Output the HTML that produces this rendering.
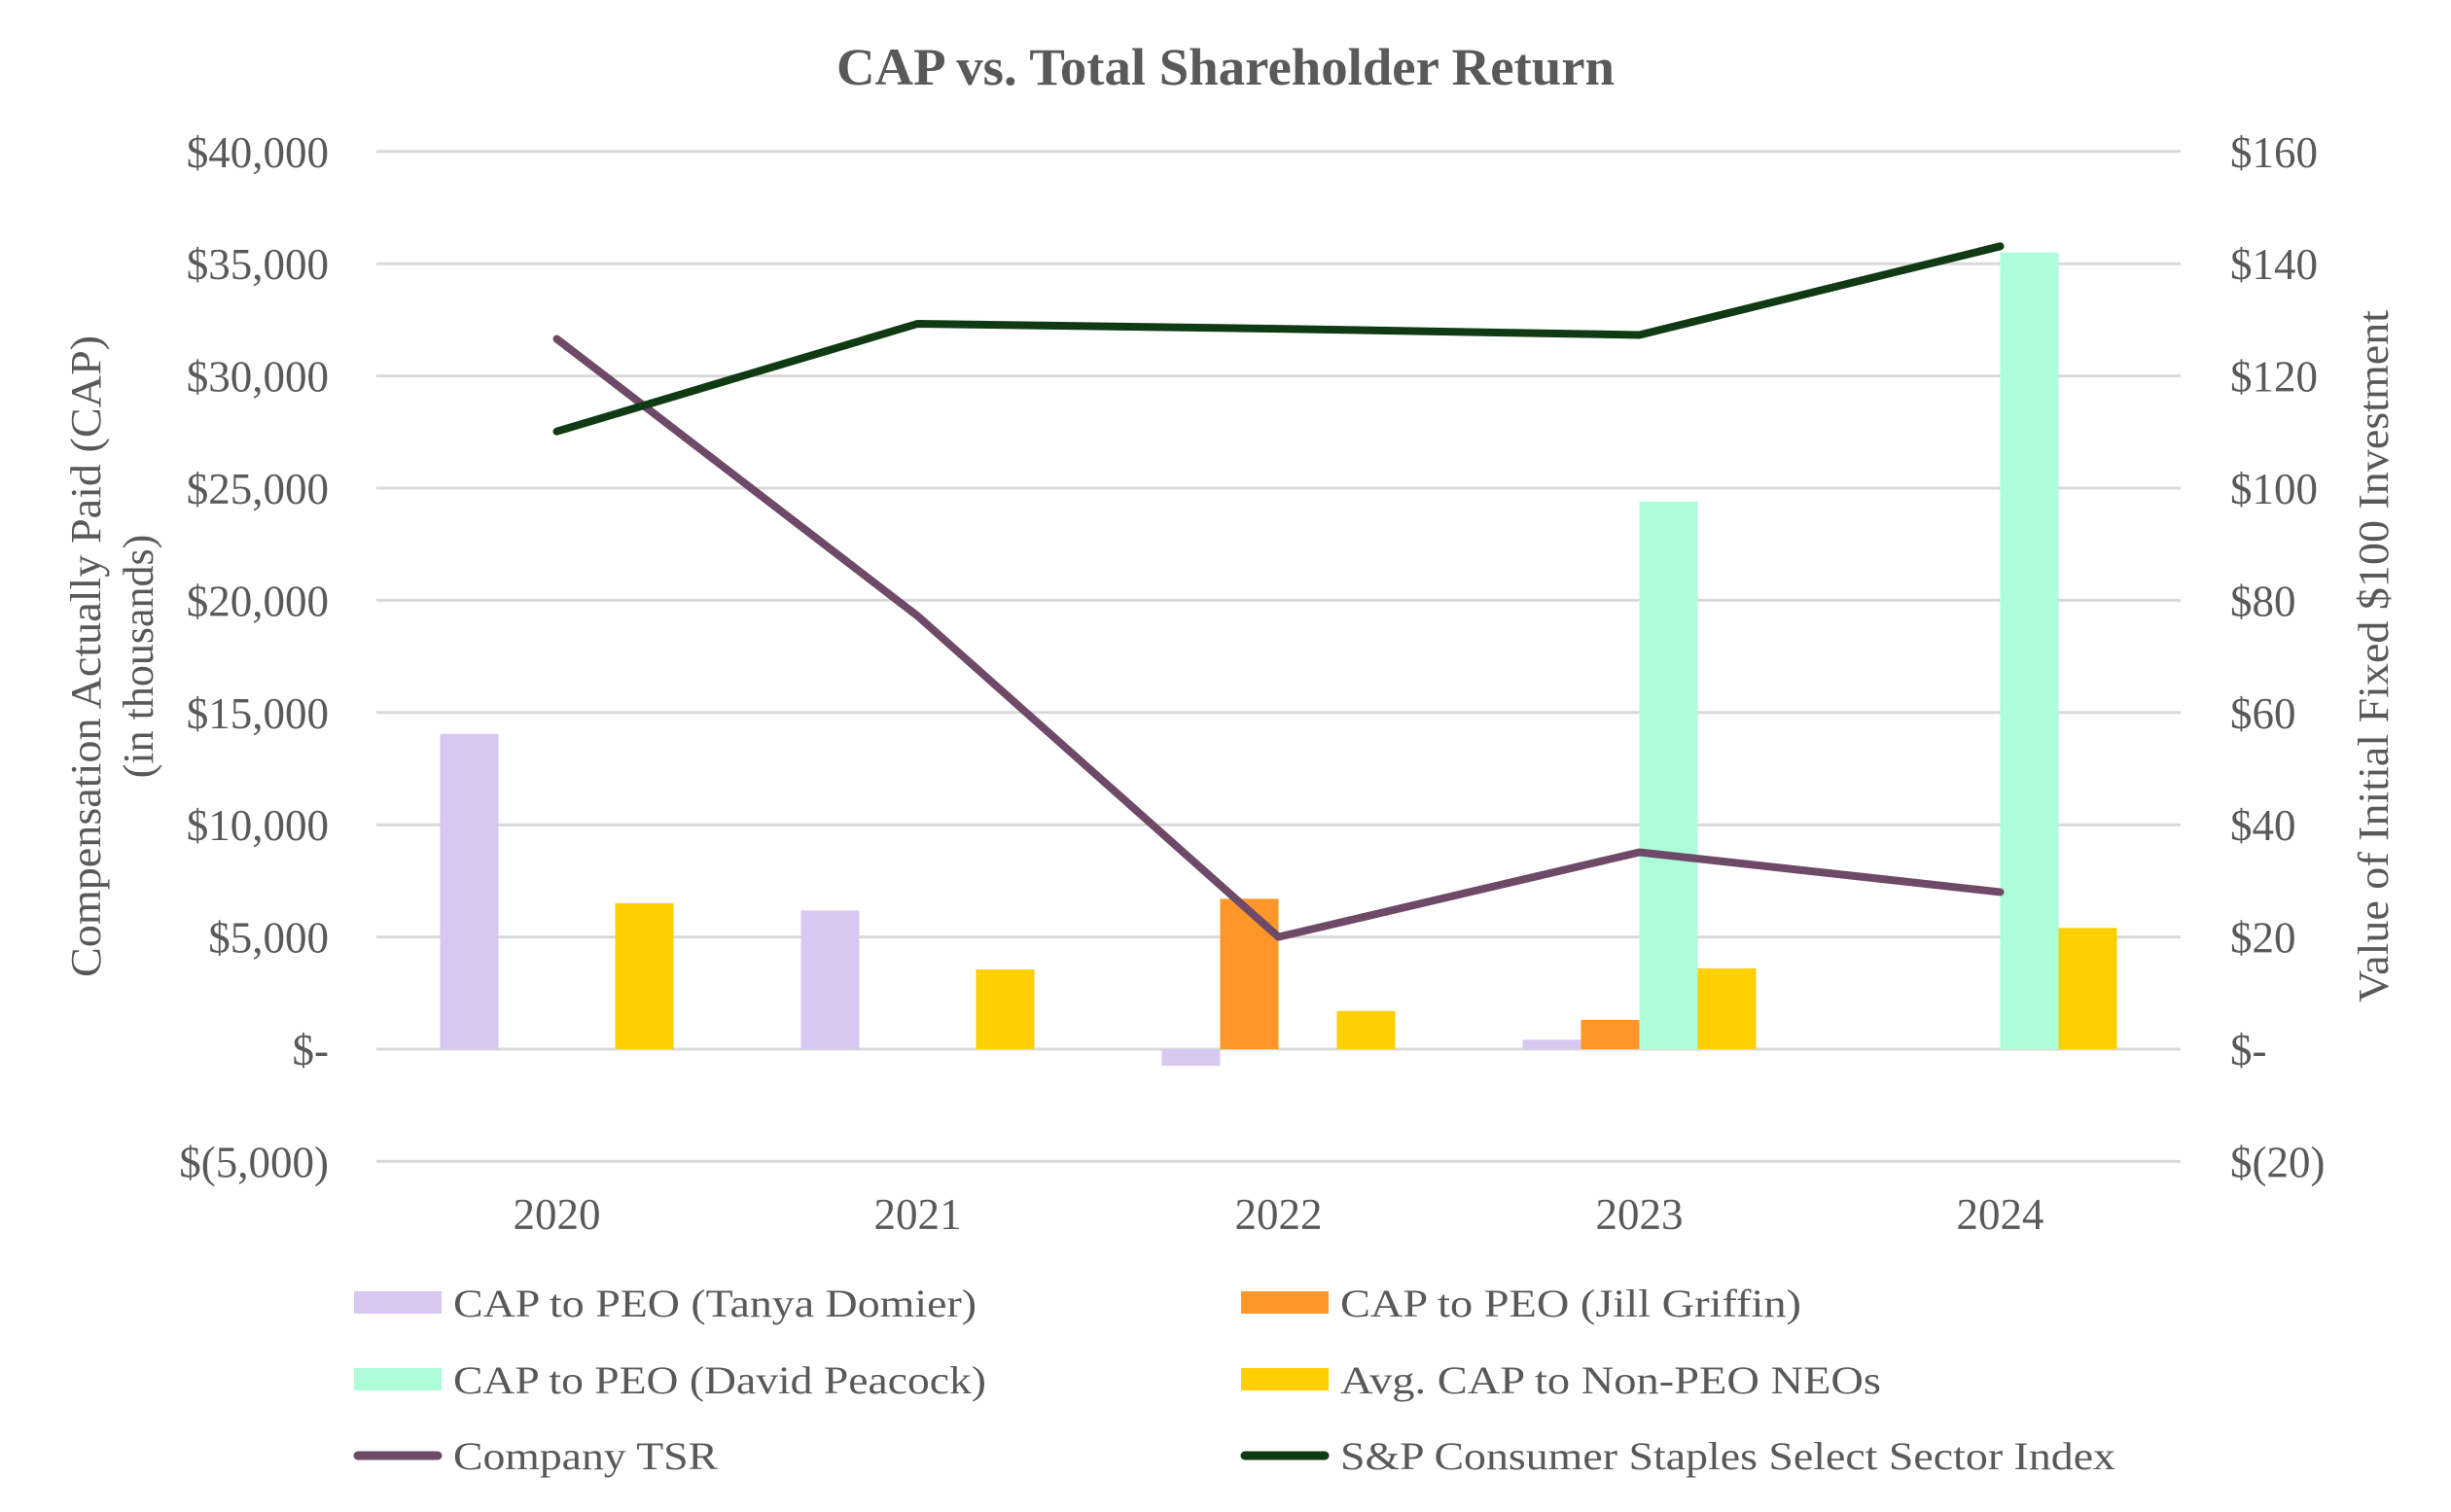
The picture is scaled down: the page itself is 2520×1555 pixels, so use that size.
<!DOCTYPE html>
<html><head><meta charset="utf-8"><style>
html,body{margin:0;padding:0;background:#fff;}
svg{display:block;font-family:"Liberation Serif",serif;}
</style></head><body>
<svg id="chart" width="2520" height="1555" viewBox="0 0 2520 1555">
<text x="1260" y="87" text-anchor="middle" font-size="54" font-weight="bold" fill="#595959" textLength="800" lengthAdjust="spacingAndGlyphs">CAP vs. Total Shareholder Return</text>
<g id="grid"></g>
<g id="bars"></g>
<g id="lines"></g>
<g id="axes"></g>
<text transform="translate(103,675) rotate(-90)" text-anchor="middle" font-size="44" fill="#595959" textLength="660" lengthAdjust="spacingAndGlyphs">Compensation Actually Paid (CAP)</text>
<text transform="translate(157,675) rotate(-90)" text-anchor="middle" font-size="44" fill="#595959">(in thousands)</text>
<text transform="translate(2455,675) rotate(-90)" text-anchor="middle" font-size="44" fill="#595959" textLength="712" lengthAdjust="spacingAndGlyphs">Value of Initial Fixed $100 Investment</text>
<g id="legend"></g>
</svg>
<script>
const years = ["2020","2021","2022","2023","2024"];
const tanya = [14050, 6180, -740, 420, 0];
const jill = [0, 0, 6700, 1300, 0];
const david = [0, 0, 0, 24400, 35500];
const nonPeo = [6500, 3550, 1700, 3600, 5400];
const companyTSR = [126.6, 77.2, 20.0, 35.1, 28.0];
const indexTSR = [110.1, 129.3, 128.4, 127.3, 143.1];
const leftTicks = [40000,35000,30000,25000,20000,15000,10000,5000,0,-5000];
const leftTickLabels = ["$40,000","$35,000","$30,000","$25,000","$20,000","$15,000","$10,000","$5,000","$-","$(5,000)"];
const rightTickLabels = ["$160","$140","$120","$100","$80","$60","$40","$20","$-","$(20)"];

const NS="http://www.w3.org/2000/svg";
const X0=387, X1=2242, Y0=1079, PX5K=115.4;
const yL=v=>Y0 - v/5000*PX5K;
const yR=v=>Y0 - v/20*PX5K;
const cw=(X1-X0)/years.length;
const xC=i=>X0+cw*(i+0.5);
function mk(tag,attrs,parent){const e=document.createElementNS(NS,tag);for(const k in attrs)e.setAttribute(k,attrs[k]);parent.appendChild(e);return e;}
const grid=document.getElementById('grid'),bars=document.getElementById('bars'),lines=document.getElementById('lines'),axes=document.getElementById('axes'),legend=document.getElementById('legend');
leftTicks.forEach((t,i)=>{
  const y=yL(t);
  const g=mk('line',{x1:X0,x2:X1,y1:y,y2:y,stroke:'#d9d9d9','stroke-width':3},grid);
  
  
  const tl=mk('text',{x:338,y:y+16,'text-anchor':'end','font-size':45,fill:'#595959'},axes);
  tl.textContent=leftTickLabels[i];
  
  
  const tr=mk('text',{x:2293,y:y+16,'font-size':45,fill:'#595959'},axes);
  tr.textContent=rightTickLabels[i];
  
  
});
years.forEach((yr,i)=>{
  const t=mk('text',{x:xC(i),y:1264,'text-anchor':'middle','font-size':45,fill:'#595959'},axes);
  t.textContent=yr;
  
  
});
const series=[[tanya,'#d7c8f2','bar-tanya-domier'],[jill,'#ff9629','bar-jill-griffin'],[david,'#adfdd8','bar-david-peacock'],[nonPeo,'#ffcf00','bar-non-peo-neos']];
const BW=60;
series.forEach((s,si)=>{
  s[0].forEach((v,i)=>{
    if(v===0)return;
    const x=xC(i)-2*BW+si*BW;
    const y1=yL(Math.max(v,0)), y2=yL(Math.min(v,0));
    const r=mk('rect',{x:x,y:y1,width:BW,height:y2-y1,fill:s[1]},bars);
    
    
  });
});
function drawLine(arr,color,name){
  const pts=arr.map((v,i)=>xC(i)+','+yR(v)).join(' ');
  const p=mk('polyline',{points:pts,fill:'none',stroke:color,'stroke-width':8,'stroke-linecap':'round','stroke-linejoin':'round'},lines);
  
  
}
drawLine(companyTSR,'#6e4a68','company-tsr-line');
drawLine(indexTSR,'#0f3a13','sp-index-line');
const leg=[
 ['CAP to PEO (Tanya Domier)','#d7c8f2','rect',364,1340,538,'legend-entry-tanya-domier'],
 ['CAP to PEO (Jill Griffin)','#ff9629','rect',1276,1340,474,'legend-entry-jill-griffin'],
 ['CAP to PEO (David Peacock)','#adfdd8','rect',364,1419,548,'legend-entry-david-peacock'],
 ['Avg. CAP to Non-PEO NEOs','#ffcf00','rect',1276,1419,556,'legend-entry-non-peo-neos'],
 ['Company TSR','#6e4a68','line',364,1497,272,'legend-entry-company-tsr'],
 ['S&P Consumer Staples Select Sector Index','#0f3a13','line',1276,1497,797,'legend-entry-sp-index']
];
leg.forEach(l=>{
  const g=mk('g',{},legend);
  
  
  if(l[2]==='rect') mk('rect',{x:l[3],y:l[4]-12,width:90,height:23,fill:l[1]},g);
  else mk('line',{x1:l[3]+4,x2:l[3]+86,y1:l[4],y2:l[4],stroke:l[1],'stroke-width':9,'stroke-linecap':'round'},g);
  const t=mk('text',{x:l[3]+102,y:l[4]+14,'font-size':40,fill:'#595959',textLength:l[5],lengthAdjust:'spacingAndGlyphs'},g);
  t.textContent=l[0];
});
</script>
</body></html>
